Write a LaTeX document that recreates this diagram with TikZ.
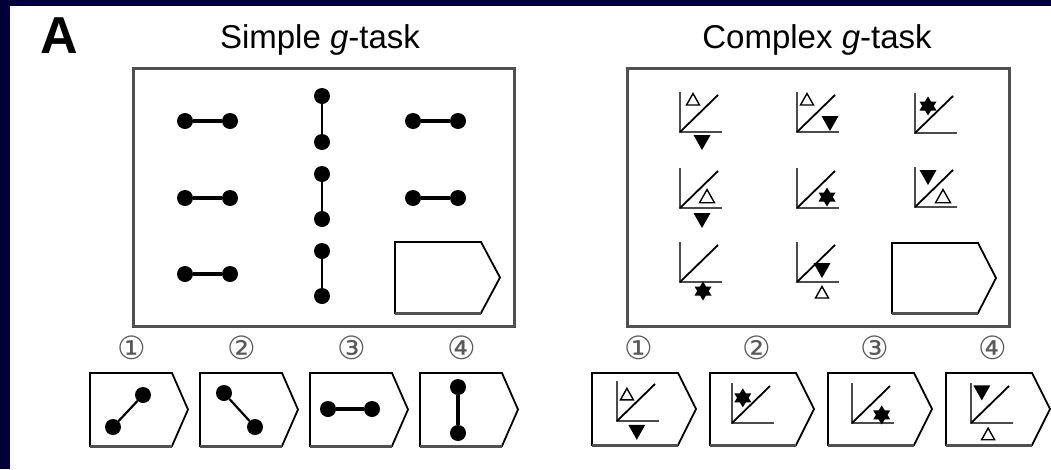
\documentclass[tikz,border=0pt]{standalone}
\usepackage{fontspec}
\setmainfont{Liberation Sans}
\newfontfamily\symfont{DejaVu Sans}
\definecolor{navy}{RGB}{1,0,56}
\definecolor{rim}{RGB}{80,80,80}

% answer / blank card: left x, top y, body width, tip depth, height
\newcommand\gcard[5]{%
  \draw[cardline] (#1+#3,#2+#5) -- (#1,#2+#5) -- (#1,#2) -- (#1+#3,#2)
        -- (#1+#3+#4,#2+#5/2) -- cycle;
  \draw[cardbase] (#1,#2+#5) -- (#1+#3,#2+#5);}

\begin{document}
\begin{tikzpicture}[x=1pt,y=-1pt,
  panel/.style={draw=rim,line width=3pt},
  cardline/.style={draw=black,line width=1.8pt,line join=miter},
  cardbase/.style={draw=rim,line width=3pt},
  dot/.style={circle,fill=black,inner sep=0pt,minimum size=16pt},
  bar/.style={line width=3.2pt},
  vbar/.style={line width=2.2pt},
  axes/.style={draw=black!70,line width=2.8pt,line join=miter},
  diag/.style={line width=1.8pt},
  title/.style={font=\fontsize{33}{36}\selectfont,anchor=base,inner sep=0pt},
  num/.style={font=\symfont\fontsize{32}{34}\selectfont,text=black!65,inner sep=0pt},
  tup/.pic={\draw[line width=1.4pt,fill=white] (-6.5,5) -- (6.5,5) -- (0,-6.5) -- cycle;},
  tdn/.pic={\fill (-8.5,-7) -- (8.5,-7) -- (0,8) -- cycle;},
  hexa/.pic={\fill (-8.5,4.5) -- (8.5,4.5) -- (0,-9.5) -- cycle;
             \fill (-8.5,-4.5) -- (8.5,-4.5) -- (0,9.5) -- cycle;},
  gaxes/.pic={\draw[axes] (0,-40) -- (0,0) -- (42,0);
              \draw[diag] (0,0) -- (38,-37);},
]
\useasboundingbox (0,0) rectangle (1051,469);
\fill[navy] (0,0) rectangle (1051,469);
\fill[white] (10,6) rectangle (1051,469);

% headings
\node[font=\bfseries\fontsize{52}{56}\selectfont,anchor=base west,inner sep=0pt] (lab) at (40,53) {A};
\node[title] (t1) at (320,48) {Simple \textit{g}-task};
\node[title] (t2) at (817,48) {Complex \textit{g}-task};

% matrix frames
\draw[panel] (133,68) rectangle (514,326);
\draw[panel] (627,68) rectangle (1009,326);

% simple task: horizontal pairs
\foreach \r/\y in {1/121,2/198,3/274}{
  \node[dot] (h\r a) at (185,\y) {};
  \node[dot] (h\r b) at (230,\y) {};
  \draw[bar] (h\r a) -- (h\r b);
}
\foreach \r/\y in {1/121,2/198}{
  \node[dot] (k\r a) at (413,\y) {};
  \node[dot] (k\r b) at (458,\y) {};
  \draw[bar] (k\r a) -- (k\r b);
}
% simple task: vertical pairs
\foreach \r/\ya/\yb in {1/96/142,2/174/219,3/251/296}{
  \node[dot] (v\r a) at (322,\ya) {};
  \node[dot] (v\r b) at (322,\yb) {};
  \draw[vbar] (v\r a) -- (v\r b);
}
\gcard{395}{242}{86}{19}{71}

% complex task: graph icons
\begin{scope}[shift={(680,132)}]
  \pic{gaxes}; \pic at (13,-32) {tup}; \pic at (22,10) {tdn};
\end{scope}
\begin{scope}[shift={(797,132)}]
  \pic{gaxes}; \pic at (10,-32) {tup}; \pic at (33,-9) {tdn};
\end{scope}
\begin{scope}[shift={(915,133)}]
  \pic{gaxes}; \pic at (13,-27) {hexa};
\end{scope}
\begin{scope}[shift={(680,208)}]
  \pic{gaxes}; \pic[scale=1.15] at (27,-11) {tup}; \pic at (22,12) {tdn};
\end{scope}
\begin{scope}[shift={(797,208)}]
  \pic{gaxes}; \pic at (30,-11) {hexa};
\end{scope}
\begin{scope}[shift={(915,207)}]
  \pic{gaxes}; \pic at (13,-30) {tdn}; \pic[scale=1.15] at (28,-10) {tup};
\end{scope}
\begin{scope}[shift={(680,282)}]
  \pic{gaxes}; \pic at (23,9) {hexa};
\end{scope}
\begin{scope}[shift={(797,282)}]
  \pic{gaxes}; \pic at (25,-12) {tdn}; \pic at (25,11) {tup};
\end{scope}
\gcard{892}{243}{86}{18}{70}

% simple task: answer choices
\foreach \i/\x in {1/90,2/200,3/310,4/420}{
  \node[num] (sn\i) at (\x+42,348) {\ifcase\i\or ①\or ②\or ③\or ④\fi};
  \gcard{\x}{373}{82}{16}{73}
}
\node[dot] (s1a) at (113,427) {}; \node[dot] (s1b) at (143,395) {};
\draw[vbar] (s1a) -- (s1b);
\node[dot] (s2a) at (224,393) {}; \node[dot] (s2b) at (255,427) {};
\draw[vbar] (s2a) -- (s2b);
\node[dot] (s3a) at (328,409) {}; \node[dot] (s3b) at (372,409) {};
\draw[bar] (s3a) -- (s3b);
\node[dot] (s4a) at (458,387) {}; \node[dot] (s4b) at (458,433) {};
\draw[bar] (s4a) -- (s4b);

% complex task: answer choices
\foreach \i/\x in {1/592,2/710,3/828,4/946}{
  \node[num] (cn\i) at (\x+47,348) {\ifcase\i\or ①\or ②\or ③\or ④\fi};
  \gcard{\x}{373}{86}{18}{72}
}
\begin{scope}[shift={(617,421)},scale=0.9]
  \pic{gaxes}; \pic at (11,-29) {tup}; \pic at (22,12) {tdn};
\end{scope}
\begin{scope}[shift={(732,423)},scale=0.9]
  \pic{gaxes}; \pic at (12,-28) {hexa};
\end{scope}
\begin{scope}[shift={(852,423)},scale=0.9]
  \pic{gaxes}; \pic at (33,-9) {hexa};
\end{scope}
\begin{scope}[shift={(971,423)},scale=0.9]
  \pic{gaxes}; \pic at (12,-34) {tdn}; \pic at (19,13) {tup};
\end{scope}
\end{tikzpicture}
\end{document}
